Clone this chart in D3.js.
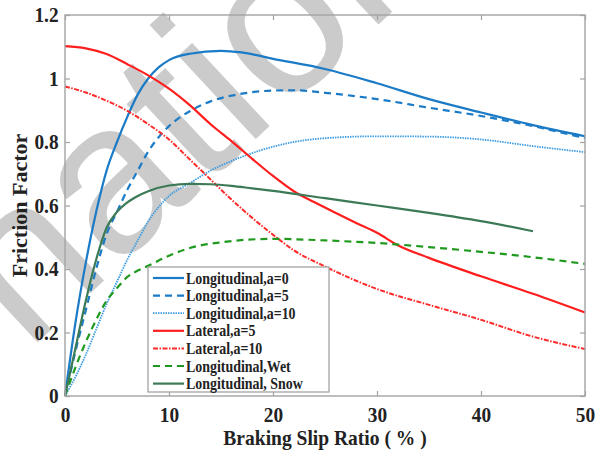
<!DOCTYPE html>
<html>
<head>
<meta charset="utf-8">
<script src="https://cdn.jsdelivr.net/npm/d3@7"></script>
<style>
  html, body { margin: 0; padding: 0; background: #fff; }
  svg { display: block; }
  text { font-family: "Liberation Serif", "Times New Roman", serif; font-weight: bold; fill: #222; }
</style>
</head>
<body>
<svg id="chart" width="603" height="455"></svg>
<script>
// Slip ratio (%) sample points and friction factor for each tyre/road case
const slipA0   = [0, 1, 2, 3, 4, 5, 6, 7, 8, 9, 10, 12, 15, 17, 20, 25, 30, 35, 40, 45, 50];
const longA0   = [0, 0.23, 0.42, 0.58, 0.71, 0.80, 0.88, 0.95, 1.0, 1.035, 1.058, 1.078, 1.087, 1.082, 1.062, 1.03, 0.985, 0.935, 0.893, 0.853, 0.818];

const slipA5   = [0, 1, 2, 3, 4, 5, 6, 7, 8, 9, 10, 12, 14, 16, 18, 20, 22, 25, 30, 35, 40, 45, 50];
const longA5   = [0, 0.14, 0.27, 0.40, 0.51, 0.58, 0.65, 0.71, 0.77, 0.815, 0.85, 0.897, 0.928, 0.946, 0.957, 0.962, 0.963, 0.955, 0.935, 0.908, 0.882, 0.85, 0.812];

const slipA10  = [0, 1, 2, 3, 4, 5, 6, 7, 8, 9, 10, 12, 14, 16, 18, 20, 22, 25, 30, 35, 40, 45, 50];
const longA10  = [0, 0.06, 0.13, 0.21, 0.29, 0.36, 0.43, 0.49, 0.55, 0.595, 0.63, 0.67, 0.71, 0.74, 0.765, 0.785, 0.80, 0.812, 0.818, 0.817, 0.808, 0.787, 0.768];

const slipLat5 = [0, 2, 4, 6, 8, 10, 12, 14, 16, 18, 20, 22, 24, 26, 28, 30, 32, 35, 40, 45, 50];
const latA5    = [1.102, 1.095, 1.077, 1.045, 1.01, 0.968, 0.916, 0.856, 0.803, 0.747, 0.693, 0.645, 0.61, 0.577, 0.545, 0.514, 0.475, 0.435, 0.377, 0.322, 0.263];

const slipLat10 = [0, 2, 4, 6, 8, 10, 12, 14, 16, 18, 20, 22, 25, 28, 30, 35, 40, 45, 50];
const latA10    = [0.975, 0.956, 0.93, 0.898, 0.856, 0.808, 0.745, 0.682, 0.619, 0.561, 0.508, 0.459, 0.408, 0.363, 0.337, 0.287, 0.24, 0.187, 0.148];

const slipWet  = [0, 1, 2, 3, 4, 5, 6, 7, 8, 10, 12, 15, 20, 25, 30, 35, 40, 45, 50];
const longWet  = [0, 0.09, 0.17, 0.24, 0.30, 0.34, 0.375, 0.395, 0.41, 0.442, 0.466, 0.484, 0.495, 0.49, 0.482, 0.469, 0.454, 0.437, 0.416];

const slipSnow = [0, 1, 2, 3, 4, 5, 6, 7, 8, 10, 12, 14, 16, 18, 20, 25, 30, 35, 40, 45];
const longSnow = [0, 0.15, 0.30, 0.43, 0.53, 0.58, 0.61, 0.63, 0.645, 0.663, 0.668, 0.667, 0.662, 0.654, 0.646, 0.623, 0.60, 0.577, 0.551, 0.519];

const seriesNames = ["Longitudinal,a=0", "Longitudinal,a=5", "Longitudinal,a=10",
                     "Lateral,a=5", "Lateral,a=10", "Longitudinal,Wet", "Longitudinal, Snow"];

const xTicks = [0, 10, 20, 30, 40, 50];
const yTicks = [0, 0.2, 0.4, 0.6, 0.8, 1, 1.2];
const yTickLabels = ["0", "0.2", "0.4", "0.6", "0.8", "1", "1.2"];

const xTitle = "Braking Slip Ratio ( % )";
const yTitle = "Friction Factor";
const stampText = "International";

// Line styling for each series, same order as seriesNames
const styles = [
  { color: "#1b7bc6", width: 2.2, dash: null },
  { color: "#1b7bc6", width: 2.2, dash: "7,5" },
  { color: "#3f9de2", width: 1.8, dash: "1.5,1" },
  { color: "#ff1e1e", width: 2.2, dash: null },
  { color: "#ff2a2a", width: 2.0, dash: "5,1.5,1.5,1.5" },
  { color: "#1f9a1f", width: 2.2, dash: "7,5" },
  { color: "#3c7a57", width: 2.2, dash: null }
];

const seriesData = [
  [slipA0, longA0], [slipA5, longA5], [slipA10, longA10],
  [slipLat5, latA5], [slipLat10, latA10], [slipWet, longWet], [slipSnow, longSnow]
].map(([xs, ys]) => xs.map((x, i) => [x, ys[i]]));

const svg = d3.select("#chart");
const W = 603, H = 455;
const m = { left: 65, right: 18, top: 15, bottom: 59 };
const pw = W - m.left - m.right, ph = H - m.top - m.bottom;

svg.append("rect").attr("width", W).attr("height", H).attr("fill", "#fff");

// Background stamp lettering
svg.append("text")
  .attr("transform", "translate(-288,646) rotate(-43)")
  .style("font-family", "'Liberation Sans', Arial, sans-serif")
  .style("font-weight", "normal")
  .style("font-size", "215px")
  .style("fill", "#cbcbcb")
  .text(stampText);

const x = d3.scaleLinear().domain([0, 50]).range([m.left, m.left + pw]);
const y = d3.scaleLinear().domain([0, 1.2]).range([m.top + ph, m.top]);

const frameColor = "#a3a3a3";

// Curves
const line = d3.line().x(d => x(d[0])).y(d => y(d[1])).curve(d3.curveMonotoneX);
const plot = svg.append("g");
seriesData.forEach((d, i) => {
  const s = styles[i];
  plot.append("path")
    .attr("d", line(d))
    .attr("fill", "none")
    .attr("stroke", s.color)
    .attr("stroke-width", s.width)
    .attr("stroke-dasharray", s.dash)
    .attr("stroke-linejoin", "round");
});

// Axes with inward ticks on all four sides
const axB = d3.axisBottom(x).tickValues(xTicks).tickSizeInner(-5).tickSizeOuter(0).tickPadding(11).tickFormat(d3.format("d"));
const axT = d3.axisTop(x).tickValues(xTicks).tickSizeInner(-5).tickSizeOuter(0).tickFormat("");
const axL = d3.axisLeft(y).tickValues(yTicks).tickSizeInner(-5).tickSizeOuter(0).tickPadding(11).tickFormat((d, i) => yTickLabels[i]);
const axR = d3.axisRight(y).tickValues(yTicks).tickSizeInner(-5).tickSizeOuter(0).tickFormat("");

function styleAxis(g) {
  g.select(".domain").remove();
  g.selectAll(".tick line").attr("stroke", frameColor).attr("stroke-width", 1.2);
  g.selectAll(".tick text").style("font-family", "'Liberation Serif', serif")
    .style("font-weight", "bold").style("font-size", "21px").attr("fill", "#222");
}
svg.append("g").attr("transform", `translate(0,${m.top + ph})`).call(axB).call(styleAxis)
  .selectAll(".tick text").attr("transform", "scale(0.92,1)");
svg.append("g").attr("transform", `translate(0,${m.top})`).call(axT).call(styleAxis);
svg.append("g").attr("transform", `translate(${m.left},0)`).call(axL).call(styleAxis)
  .selectAll(".tick text").attr("x", -7).attr("transform", "scale(0.92,1)");
svg.append("g").attr("transform", `translate(${m.left + pw},0)`).call(axR).call(styleAxis);

svg.append("rect")
  .attr("x", m.left).attr("y", m.top).attr("width", pw).attr("height", ph)
  .attr("fill", "none").attr("stroke", frameColor).attr("stroke-width", 1.4);

// Axis titles
svg.append("text")
  .attr("transform", `translate(${m.left + pw / 2},445) scale(0.93,1)`)
  .attr("text-anchor", "middle")
  .style("font-size", "21px")
  .text(xTitle);

svg.append("text")
  .attr("transform", `translate(27,${m.top + ph / 2}) rotate(-90) scale(1,0.92)`)
  .attr("text-anchor", "middle")
  .style("font-size", "22px")
  .text(yTitle);

// Legend
const lg = svg.append("g").attr("transform", "translate(148,267)");
lg.append("rect").attr("width", 181).attr("height", 125)
  .attr("fill", "#fff").attr("stroke", frameColor).attr("stroke-width", 1.3);
seriesNames.forEach((name, i) => {
  const cy = 11 + i * 17.6;
  const s = styles[i];
  lg.append("line")
    .attr("x1", 5).attr("x2", 36).attr("y1", cy).attr("y2", cy)
    .attr("stroke", s.color).attr("stroke-width", s.width)
    .attr("stroke-dasharray", s.dash);
  lg.append("text")
    .attr("transform", `translate(38,${cy + 5.5}) scale(0.87,1)`)
    .style("font-size", "16px")
    .text(name);
});
</script>
</body>
</html>
